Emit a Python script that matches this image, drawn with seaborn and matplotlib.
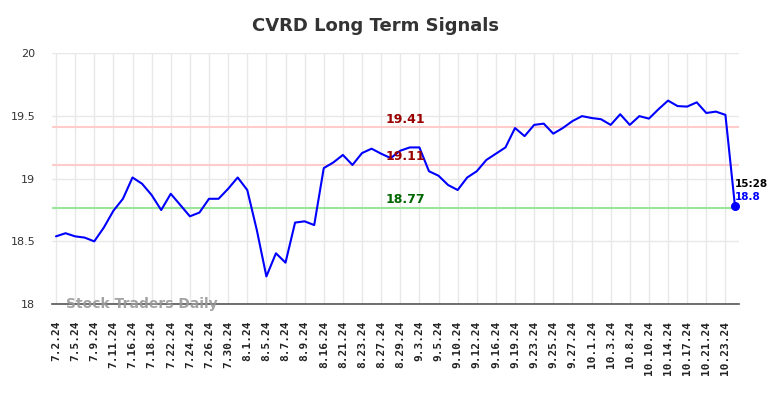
import numpy as np
import pandas as pd
import matplotlib
matplotlib.use("Agg")
import matplotlib.pyplot as plt
import seaborn as sns

# tick labels (every second trading day)
tick_labels = ["7.2.24", "7.5.24", "7.9.24", "7.11.24", "7.16.24", "7.18.24", "7.22.24",
               "7.24.24", "7.26.24", "7.30.24", "8.1.24", "8.5.24", "8.7.24", "8.9.24",
               "8.16.24", "8.21.24", "8.23.24", "8.27.24", "8.29.24", "9.3.24", "9.5.24",
               "9.10.24", "9.12.24", "9.16.24", "9.19.24", "9.23.24", "9.25.24", "9.27.24",
               "10.1.24", "10.3.24", "10.8.24", "10.10.24", "10.14.24", "10.17.24",
               "10.21.24", "10.23.24"]

# closing prices
prices = [18.54, 18.565, 18.54, 18.53, 18.50, 18.61, 18.744, 18.84, 19.01, 18.96,
          18.87, 18.75, 18.88, 18.79, 18.70, 18.73, 18.84, 18.84, 18.92, 19.01,
          18.91, 18.59, 18.22, 18.405, 18.33, 18.65, 18.66, 18.63, 19.085, 19.13,
          19.19, 19.11, 19.205, 19.24, 19.20, 19.165, 19.224, 19.25, 19.25, 19.06,
          19.024, 18.95, 18.91, 19.01, 19.06, 19.15, 19.20, 19.25, 19.405, 19.34,
          19.43, 19.44, 19.36, 19.405, 19.46, 19.50, 19.485, 19.475, 19.43, 19.515,
          19.43, 19.50, 19.48, 19.555, 19.624, 19.58, 19.576, 19.61, 19.525, 19.536,
          19.51, 18.78]

resistance = [19.41, 19.11]
support = [18.77]
last_time = "15:28"
last_label = "18.8"

df = pd.DataFrame({"idx": np.arange(len(prices)), "price": prices})

sns.set_style("white")
fig = plt.figure(figsize=(7.84, 3.98), dpi=100)
ax = fig.add_axes([0.0663, 0.2362, 0.8763, 0.6294])

for lvl in resistance:
    ax.axhline(lvl, color="#ffcccc", lw=1.5, zorder=1)
for lvl in support:
    ax.axhline(lvl, color="#99e699", lw=1.5, zorder=1)

sns.lineplot(data=df, x="idx", y="price", color="#0000ff", lw=1.5, ax=ax, zorder=3)
ax.scatter([df["idx"].iloc[-1]], [df["price"].iloc[-1]], color="#0000ff", s=30, zorder=4)

ax.set_xlim(-0.42, len(prices) - 1 + 0.42)
ax.set_ylim(18, 20)
ax.set_yticks([18, 18.5, 19, 19.5, 20])
ax.set_yticklabels(["18", "18.5", "19", "19.5", "20"])
ticks = np.arange(0, len(prices), 2)[:len(tick_labels)]
ax.set_xticks(ticks)
ax.set_xticklabels(tick_labels, rotation=90, fontfamily="DejaVu Sans Mono",
                   fontweight="bold", fontsize=8)
ax.tick_params(axis="x", length=0, pad=12, colors="#222222")
ax.tick_params(axis="y", length=0, pad=12, labelsize=8, colors="#333333")
ax.grid(True, color="#e8e8e8", lw=1)
ax.set_axisbelow(True)
ax.set_xlabel("")
ax.set_ylabel("")
for s in ["left", "right", "top"]:
    ax.spines[s].set_visible(False)
ax.spines["bottom"].set_color("#555555")
ax.spines["bottom"].set_linewidth(1.2)

# level labels
mid = 36.5
for lvl in resistance:
    ax.text(mid, lvl + 0.015, f"{lvl:.2f}", color="#990000", fontsize=9,
            fontweight="bold", ha="center", va="bottom")
for lvl in support:
    ax.text(mid, lvl + 0.015, f"{lvl:.2f}", color="#006600", fontsize=9,
            fontweight="bold", ha="center", va="bottom")

ax.text(len(prices) - 1, df["price"].iloc[-1] + 0.18, last_time, color="black",
        fontsize=7.5, fontweight="bold", ha="left", va="center")
ax.text(len(prices) - 1, df["price"].iloc[-1] + 0.075, last_label, color="#0000ff",
        fontsize=7.5, fontweight="bold", ha="left", va="center")

ax.text(0.02, 0.0, "Stock Traders Daily", transform=ax.transAxes, color="#999999",
        fontsize=10, fontweight="bold", ha="left", va="center", alpha=0.9)

fig.text(375 / 784, 1 - 26 / 398, "CVRD Long Term Signals", fontsize=13,
         fontweight="bold", color="#333333", ha="center", va="center")

fig.savefig("out.png", dpi=100)
